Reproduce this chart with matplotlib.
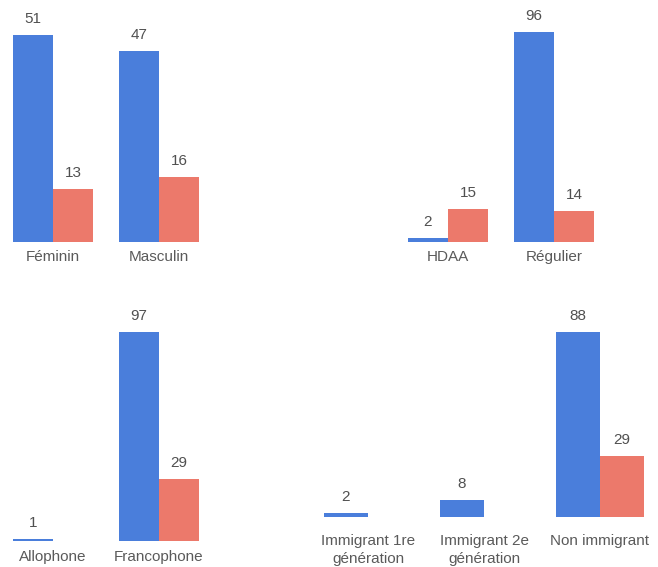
import matplotlib
matplotlib.use("Agg")
import matplotlib.pyplot as plt
import numpy as np

plt.rcParams['font.family'] = ['Liberation Sans', 'DejaVu Sans']

# Data
sexe_cats = ["Féminin", "Masculin"]
sexe_blue = [51, 47]
sexe_red = [13, 16]

statut_cats = ["HDAA", "Régulier"]
statut_blue = [2, 96]
statut_red = [15, 14]

langue_cats = ["Allophone", "Francophone"]
langue_blue = [1, 97]
langue_red = [None, 29]

immig_cats = ["Immigrant 1re\ngénération", "Immigrant 2e\ngénération", "Non immigrant"]
immig_blue = [2, 8, 88]
immig_red = [None, None, 29]

BLUE = "#4A7EDB"
RED = "#EC796B"
VAL_COLOR = "#505050"
CAT_COLOR = "#5a5a5a"

W, H = 658, 567
fig = plt.figure(figsize=(W / 100, H / 100), dpi=100)


def panel(px_left, px_right, px_base, px_top, cats, blue, red, bw, pad):
    ax = fig.add_axes([px_left / W, (H - px_base) / H,
                       (px_right - px_left) / W, (px_base - px_top) / H])
    n = len(cats)
    x = np.arange(n)
    ymax = max(v for v in blue + red if v is not None)
    for i in range(n):
        b = blue[i]
        r = red[i]
        if b is not None:
            ax.bar(x[i] - bw / 2, b, width=bw, color=BLUE, linewidth=0)
            ax.annotate(str(b), (x[i] - bw / 2, b), xytext=(0, 11.5),
                        textcoords="offset points", ha="center", va="center",
                        fontsize=11, color=VAL_COLOR, annotation_clip=False)
        if r is not None:
            ax.bar(x[i] + bw / 2, r, width=bw, color=RED, linewidth=0)
            ax.annotate(str(r), (x[i] + bw / 2, r), xytext=(0, 11.5),
                        textcoords="offset points", ha="center", va="center",
                        fontsize=11, color=VAL_COLOR, annotation_clip=False)
    ax.set_xlim(-0.5, n - 0.5)
    ax.set_ylim(0, ymax)
    ax.set_xticks(x)
    ax.set_xticklabels(cats, fontsize=11, color=CAT_COLOR, linespacing=1.35)
    ax.tick_params(axis="x", length=0, pad=pad)
    ax.set_yticks([])
    for s in ax.spines.values():
        s.set_visible(False)
    ax.patch.set_alpha(0)
    return ax


panel(0, 212, 242, 35, sexe_cats, sexe_blue, sexe_red, 40 / 106, 6.0)
panel(395, 607, 242, 32, statut_cats, statut_blue, statut_red, 40 / 106, 6.0)
panel(0, 212, 541, 332, langue_cats, langue_blue, langue_red, 40 / 106, 6.5)
panel(310, 658, 517, 332, immig_cats, immig_blue, immig_red, 44 / 116, 12.5)

fig.savefig("out.png", dpi=100, facecolor="white")
